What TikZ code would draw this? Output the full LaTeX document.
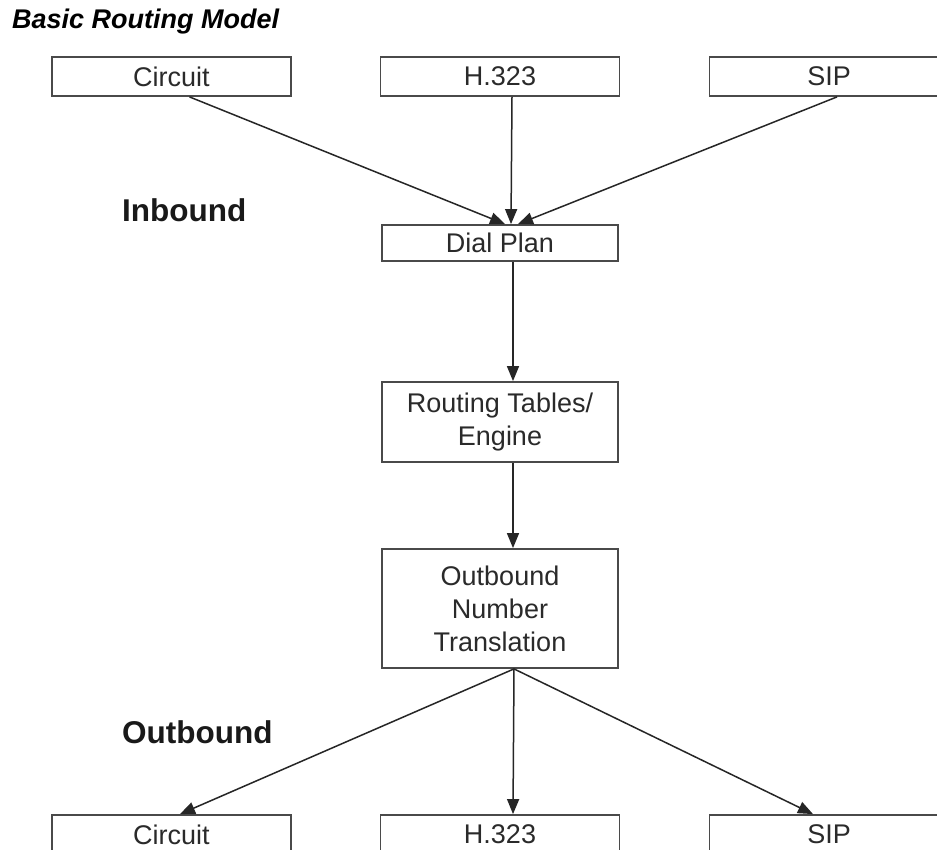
\documentclass[tikz,border=0pt]{standalone}
\usepackage{fontspec}
\setmainfont{Liberation Sans}
\usetikzlibrary{arrows.meta}
\definecolor{boxline}{HTML}{4A4A4A}
\definecolor{txt}{HTML}{2A2A2A}
\tikzset{
  box/.style={draw=boxline, line width=1.8pt, fill=white, inner sep=0pt, align=center,
    text=txt, font=\fontsize{27}{33}\selectfont},
  wide/.style={box, minimum width=239pt, minimum height=39pt},
  mid/.style={box, minimum width=236pt},
  arr/.style={draw=black!85, line width=1.5pt, -{Triangle[length=15pt,width=12pt]}},
  lbl/.style={inner sep=0pt, anchor=west, text=black!90, font=\bfseries\fontsize{31.5}{36}\selectfont},
}
\begin{document}
\begin{tikzpicture}[x=1pt,y=-1pt]
\useasboundingbox (0,0) rectangle (937,850);
\clip (0,0) rectangle (937,850);
\fill[white] (0,0) rectangle (937,850);

\node[inner sep=0pt, anchor=west, font=\bfseries\itshape\fontsize{27}{30}\selectfont] (title) at (12,22) {Basic Routing Model};

\node[wide] (c1) at (171.5,76.5) {Circuit};
\node[wide] (h1) at (500,76.5) {H.323};
\node[wide] (s1) at (829,76.5) {SIP};

\node[lbl] (inb) at (122,210) {Inbound};
\node[lbl] (outb) at (122,732) {Outbound};

\node[mid, minimum height=36pt] (dp) at (500,243) {Dial Plan};
\node[mid, minimum height=80pt] (rt) at (500,422) {Routing Tables/\\Engine};
\node[mid, minimum height=119pt] (ont) at (500,608.5) {Outbound\\Number\\Translation};

\node[wide] (c2) at (171.5,834.5) {Circuit};
\node[wide] (h2) at (500,834.5) {H.323};
\node[wide] (s2) at (829,834.5) {SIP};

\draw[arr] ([xshift=18pt]c1.south) -- ([xshift=5pt]dp.north);
\draw[arr] ([xshift=12pt]h1.south) -- ([xshift=11pt]dp.north);
\draw[arr] ([xshift=8pt]s1.south) -- ([xshift=18pt]dp.north);
\draw[arr] ([xshift=13pt]dp.south) -- ([xshift=13pt]rt.north);
\draw[arr] ([xshift=13pt]rt.south) -- ([xshift=13pt]ont.north);
\draw[arr] ([xshift=14pt]ont.south) -- ([xshift=8.5pt]c2.north);
\draw[arr] ([xshift=14pt]ont.south) -- ([xshift=13pt]h2.north);
\draw[arr] ([xshift=14pt]ont.south) -- ([xshift=-16pt]s2.north);
\end{tikzpicture}
\end{document}
